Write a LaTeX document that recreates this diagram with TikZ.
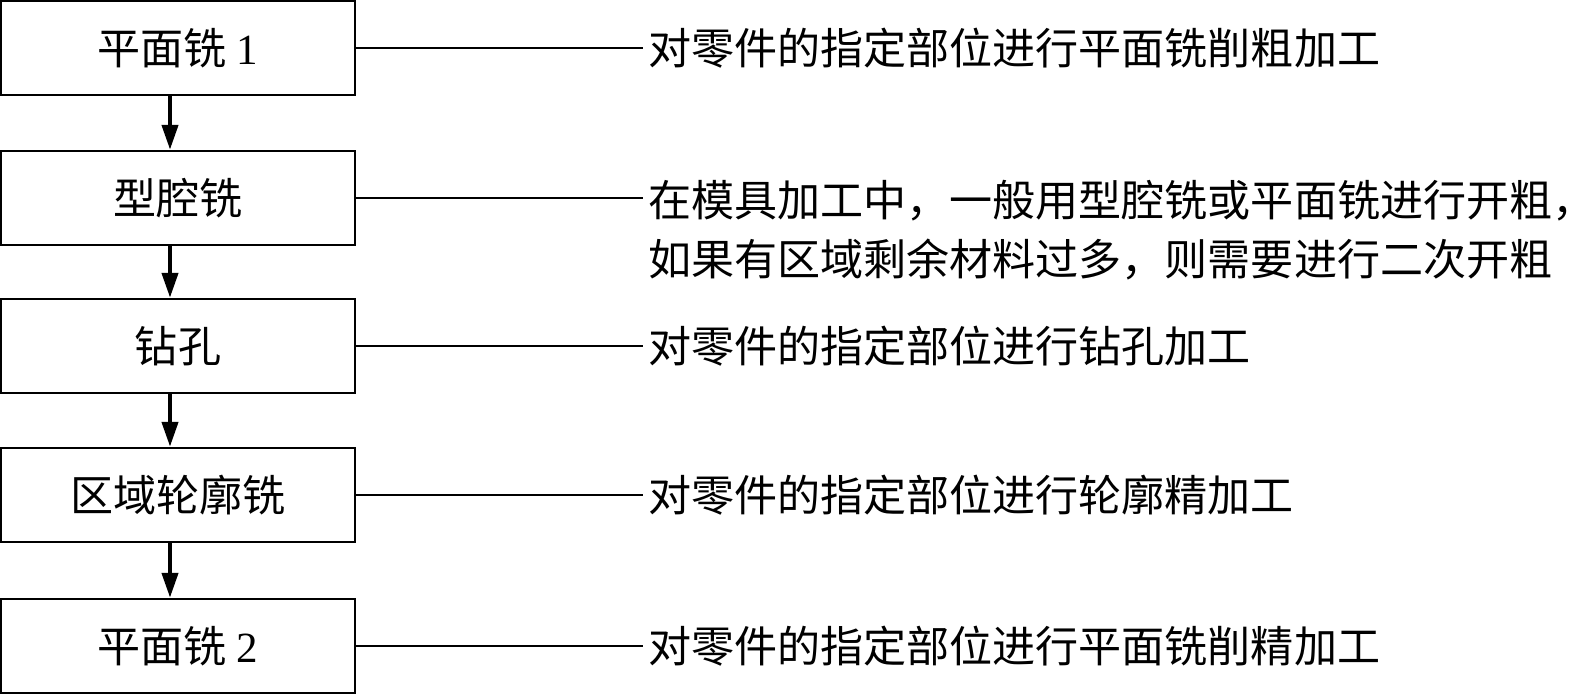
\documentclass[tikz,border=0pt]{standalone}
\usepackage{fontspec}
\setmainfont{Liberation Serif}
\newfontfamily\cjk{Noto Sans CJK SC}
\usetikzlibrary{arrows.meta, positioning, calc}

\begin{document}
\begin{tikzpicture}[x=0.02cm, y=-0.02cm,
        stepbox/.style={draw, line width=1.4pt, minimum width=7.08cm, minimum height=1.88cm,
                        inner sep=0pt, font=\fontsize{24.5}{28}\selectfont\cjk},
        note/.style={anchor=west, inner sep=0.1cm, align=left,
                     font=\fontsize{24.5}{33.5}\selectfont\cjk},
        link/.style={line width=1.2pt},
        arr/.style={-{Triangle[length=0.5cm, width=0.32cm]}, line width=2.4pt}
      ]
        \useasboundingbox (0,0) rectangle (1571,694);
        \node[stepbox] (b1) at (178,48)  {平面铣 {\rmfamily 1}};
        \node[stepbox] (b2) at (178,198) {型腔铣};
        \node[stepbox] (b3) at (178,346) {钻孔};
        \node[stepbox] (b4) at (178,495) {区域轮廓铣};
        \node[stepbox] (b5) at (178,646) {平面铣 {\rmfamily 2}};
        \draw[arr] ([xshift=-0.16cm]b1.south)--([xshift=-0.16cm]b2.north);
        \draw[arr] ([xshift=-0.16cm]b2.south)--([xshift=-0.16cm]b3.north);
        \draw[arr] ([xshift=-0.16cm]b3.south)--([xshift=-0.16cm]b4.north);
        \draw[arr] ([xshift=-0.16cm]b4.south)--([xshift=-0.16cm]b5.north);
        \node[note] (t1) at (643,48)  {对零件的指定部位进行平面铣削粗加工};
        \node[note] (t2) at (643,230) {在模具加工中，一般用型腔铣或平面铣进行开粗，\\如果有区域剩余材料过多，则需要进行二次开粗};
        \node[note] (t3) at (643,346) {对零件的指定部位进行钻孔加工};
        \node[note] (t4) at (643,495) {对零件的指定部位进行轮廓精加工};
        \node[note] (t5) at (643,646) {对零件的指定部位进行平面铣削精加工};
        \draw[link] (b1.east)--(t1.west); \draw[link] (b2.east)--(b2.east -| t2.west);
        \draw[link] (b3.east)--(t3.west); \draw[link] (b4.east)--(t4.west);
        \draw[link] (b5.east)--(t5.west);
      \end{tikzpicture}
\end{document}
